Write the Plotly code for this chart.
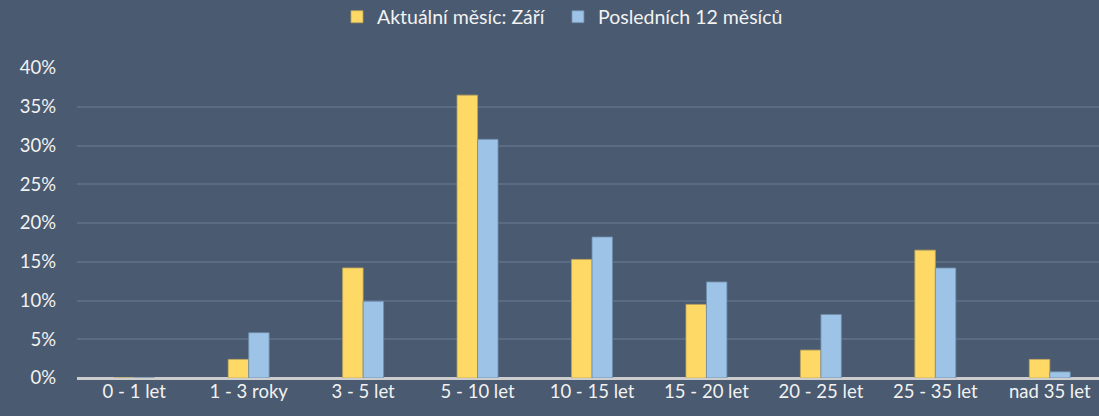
import plotly.graph_objects as go

kategorie = ["0 - 1 let", "1 - 3 roky", "3 - 5 let", "5 - 10 let", "10 - 15 let",
             "15 - 20 let", "20 - 25 let", "25 - 35 let", "nad 35 let"]
aktualni_mesic = [0.0, 2.4, 14.2, 36.5, 15.3, 9.5, 3.6, 16.5, 2.4]
poslednich_12 = [0.0, 5.85, 9.9, 30.8, 18.2, 12.4, 8.2, 14.2, 0.8]

pozadi = "rgb(74, 90, 112)"
text_barva = "rgb(242, 242, 242)"

fig = go.Figure()

fig.add_trace(
    go.Bar(
        x=kategorie,
        y=[v / 100 for v in aktualni_mesic],
        name="Aktuální měsíc: Září",
        legend="legend",
        showlegend=True,
        marker=dict(color="#FFD966", line=dict(color="rgb(190, 165, 90)", width=0.8)),
    )
)
fig.add_trace(
    go.Bar(
        x=kategorie,
        y=[v / 100 for v in poslednich_12],
        name="Posledních 12 měsíců",
        legend="legend2",
        showlegend=True,
        marker=dict(color="#9DC3E6", line=dict(color="rgb(110, 140, 170)", width=0.8)),
    )
)

# každá položka legendy zvlášť, aby šla umístit přesně
legenda = dict(
    visible=True,
    orientation="h",
    xanchor="left",
    yref="container",
    y=0.959,
    yanchor="middle",
    font=dict(size=19.5, color=text_barva),
    bgcolor="rgba(0,0,0,0)",
    itemwidth=30,
)

fig.update_layout(
    width=1099,
    height=416,
    showlegend=True,
    paper_bgcolor=pozadi,
    plot_bgcolor=pozadi,
    font=dict(family="Lato, Open Sans, sans-serif", size=18.5, color=text_barva),
    margin=dict(l=77, r=0, t=68, b=38),
    barmode="group",
    bargap=0.642,
    bargroupgap=0,
    legend=dict(legenda, x=0.2544),
    legend2=dict(legenda, x=0.4706),
    xaxis=dict(
        range=[-0.5, 8.43],
        showgrid=False,
        showline=False,
        zeroline=False,
        ticks="",
        tickfont=dict(size=18.5, color=text_barva),
    ),
    yaxis=dict(
        range=[0, 0.4],
        dtick=0.05,
        tickformat=".0%",
        showgrid=True,
        gridcolor="rgb(90, 108, 132)",
        gridwidth=1.5,
        zeroline=True,
        zerolinecolor="rgb(205, 205, 205)",
        zerolinewidth=2.5,
        showline=False,
        ticks="",
        ticklabelstandoff=20,
        tickfont=dict(size=18.5, color=text_barva),
    ),
)

# stránka bez okrajů, aby graf seděl přesně do okna
fig.write_html(
    "out.html",
    config={"displayModeBar": False},
    post_script="document.body.style.margin='0';",
)
